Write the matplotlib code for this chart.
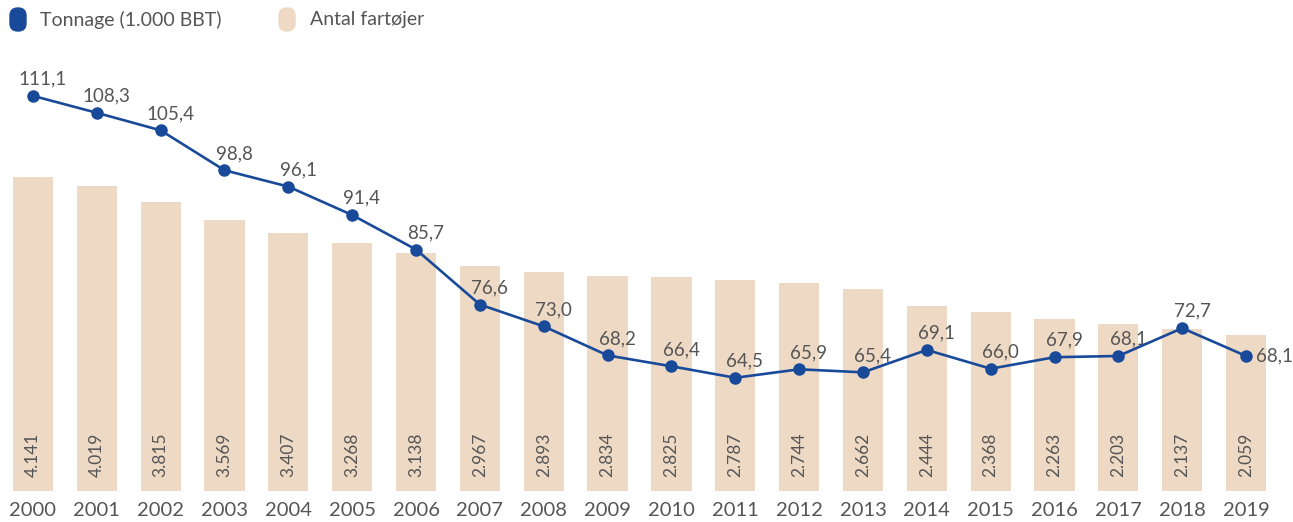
import matplotlib.pyplot as plt
from matplotlib.patches import FancyBboxPatch
import numpy as np

plt.rcParams["font.family"] = ["Lato", "DejaVu Sans"]

years = [str(y) for y in range(2000, 2020)]
vessels = [4141, 4019, 3815, 3569, 3407, 3268, 3138, 2967, 2893, 2834,
           2825, 2787, 2744, 2662, 2444, 2368, 2263, 2203, 2137, 2059]
tonnage = [111.1, 108.3, 105.4, 98.8, 96.1, 91.4, 85.7, 76.6, 73.0, 68.2,
           66.4, 64.5, 65.9, 65.4, 69.1, 66.0, 67.9, 68.1, 72.7, 68.1]

BLUE = "#184a99"
BEIGE = "#eed9c5"
GREY = "#555555"

W, H = 1293, 522
fig = plt.figure(figsize=(W / 100, H / 100), dpi=100)

# axes area in pixels: left 1, right 1278, bottom(from top) 491, top 40
ax = fig.add_axes([1 / W, (H - 491) / H, 1277 / W, 451 / H])
x = np.arange(len(years))
ax.bar(x, vessels, width=0.63, color=BEIGE, zorder=1)
ax.set_xlim(-0.5, len(years) - 0.5)
ax.set_ylim(0, 451 / 0.0758)
for s in ax.spines.values():
    s.set_visible(False)
ax.set_yticks([])
ax.set_xticks(x)
ax.set_xticklabels(years, fontsize=14.5, color=GREY)
ax.tick_params(axis="x", length=0, pad=8)

for xi, v in zip(x, vessels):
    lbl = f"{v:,}".replace(",", ".")
    ax.text(xi, 36 / 0.0758, lbl, rotation=90, ha="center",
            va="center", fontsize=12.5, color=GREY, zorder=3)

# line on its own scale: 6.05 px per unit, zero 277 px below the bar baseline
ax2 = ax.twinx()
ax2.set_ylim(277 / 6.05, (277 + 451) / 6.05)
ax2.plot(x, tonnage, color=BLUE, lw=1.9, marker="o", ms=8, zorder=4)
for s in ax2.spines.values():
    s.set_visible(False)
ax2.set_yticks([])

for i, (xi, t) in enumerate(zip(x, tonnage)):
    lbl = f"{t:.1f}".replace(".", ",")
    if i == len(x) - 1:
        ax2.annotate(lbl, (xi, t), xytext=(7, 0), textcoords="offset points",
                     ha="left", va="center", fontsize=13.5, color=GREY)
    else:
        ax2.annotate(lbl, (xi, t), xytext=(7, 6), textcoords="offset points",
                     ha="center", va="bottom", fontsize=13.5, color=GREY)


def legend_item(px, color, text, tx):
    patch = FancyBboxPatch((px / W, (H - 31) / H), 16 / W, 23 / H,
                           boxstyle="round,pad=0,rounding_size=0.006",
                           transform=fig.transFigure, color=color,
                           mutation_aspect=W / H)
    fig.patches.append(patch)
    fig.text(tx / W, (H - 20) / H, text, fontsize=14, color=GREY,
             va="center", ha="left")


legend_item(10, BLUE, "Tonnage (1.000 BBT)", 40)
legend_item(279, BEIGE, "Antal fartøjer", 310)

fig.savefig("out.png", dpi=100)
